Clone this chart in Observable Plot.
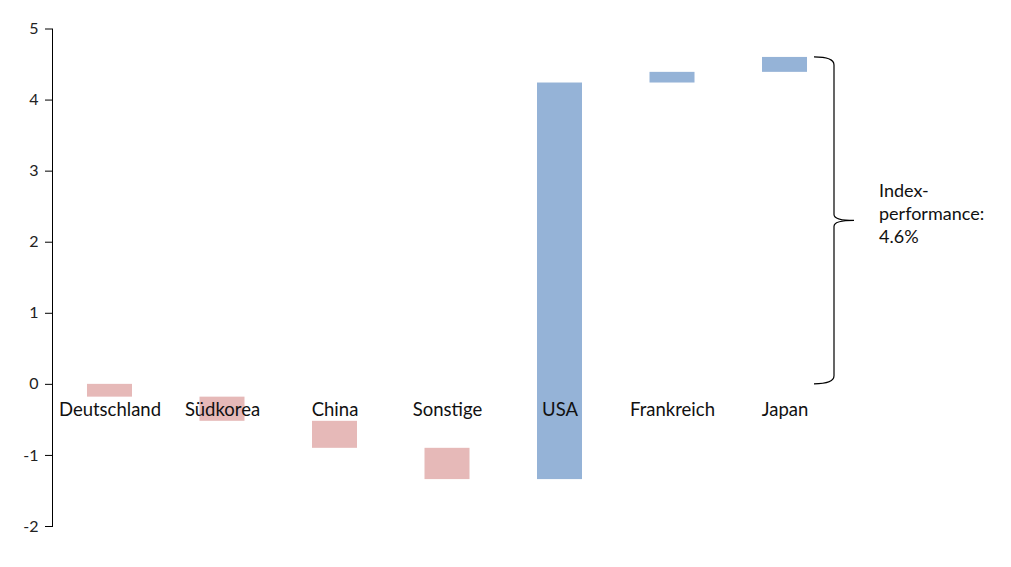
<!DOCTYPE html>
<html>
<head>
<meta charset="utf-8">
<script src="https://cdn.jsdelivr.net/npm/d3@7"></script>
<script src="https://cdn.jsdelivr.net/npm/@observablehq/plot@0.6"></script>
<style>
  html, body { margin: 0; padding: 0; background: #fff; }
  svg { display: block; }
</style>
</head>
<body>
<div id="chart"></div>
<script>
const categories = ["Deutschland", "Südkorea", "China", "Sonstige", "USA", "Frankreich", "Japan"];
const contributions = [-0.18, -0.34, -0.38, -0.44, 5.58, 0.15, 0.21];
const yTicks = [-2, -1, 0, 1, 2, 3, 4, 5];
const annotationLines = ["Index-", "performance:", "4.6%"];

let run = 0;
const rows = categories.map((c, i) => {
  const start = run;
  run += contributions[i];
  return { category: c, y1: start, y2: run, value: contributions[i] };
});
const total = run;

const FONT = "Lato, 'Open Sans', sans-serif";

const chart = Plot.plot({
  width: 1011,
  height: 567,
  marginLeft: 52,
  marginRight: 169,
  marginTop: 28.5,
  marginBottom: 41,
  style: { fontFamily: FONT, background: "#fff", color: "#222" },
  x: { domain: categories, paddingInner: 0.6, paddingOuter: 0.311, round: false, axis: null },
  y: { domain: [-2, 5], ticks: yTicks },
  marks: [
    Plot.barY(rows, {
      x: "category", y1: "y1", y2: "y2",
      fill: d => d.value < 0 ? "#e6b9b8" : "#95b3d7"
    }),
    Plot.frame({ anchor: "left", stroke: "#000", strokeWidth: 1 }),
    Plot.axisY({ ticks: yTicks, tickSize: 7, tickPadding: 7, stroke: "#000", fontSize: 16, fill: "#222",
      tickFormat: d => d < 0 ? "-" + Math.abs(d) : String(d) }),
    Plot.text(rows, { x: "category", y: () => 0, text: "category", dy: 26, fontSize: 18.5, fill: "#111", fontFamily: FONT })
  ]
});

document.getElementById("chart").appendChild(chart);

// Brace annotation spanning 0 .. total
const ys = chart.scale("y");
const xr = chart.scale("x").range;
const xb = xr[1] - 8;
const yTop = ys.apply(total), yBot = ys.apply(0), yMid = (yTop + yBot) / 2;
const svg = d3.select(chart);
svg.append("path")
  .attr("d", `M${xb - 20},${yTop} Q${xb},${yTop} ${xb},${yTop + 8} L${xb},${yMid - 6} Q${xb},${yMid} ${xb + 20},${yMid} Q${xb},${yMid} ${xb},${yMid + 6} L${xb},${yBot - 8} Q${xb},${yBot} ${xb - 20},${yBot}`)
  .attr("fill", "none").attr("stroke", "#000").attr("stroke-width", 1.2);
const t = svg.append("text")
  .attr("font-family", FONT).attr("font-size", 18).attr("fill", "#111")
  .attr("text-anchor", "start");
annotationLines.forEach((line, i) => {
  t.append("tspan").attr("x", xb + 45).attr("y", yMid - 23.5 + i * 23).text(line);
});
</script>
</body>
</html>
